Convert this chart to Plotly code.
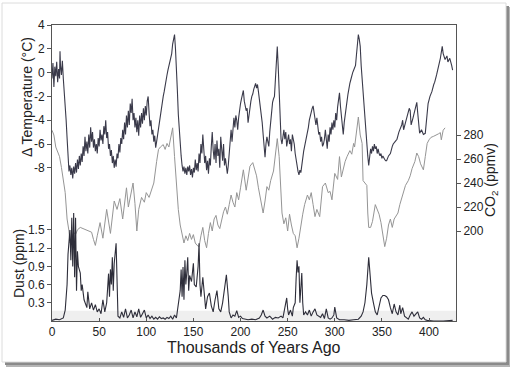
import plotly.graph_objects as go

# ---------------- data ----------------
temp_age = [0,1,2,3,4,5,6,7,8,8.5,9,10,11,12,13,14,15,16,17,18,19,20,21,22,23,24,25,26,27,28,29,30,
            31,32,33,34,35,36,37,38,39,40,41,42,43,44,45,46,47,48,49,50,51,52,53,54,55,56,57,58,59,60,
            61,62,63,64,65,66,67,68,69,70,71,72,73,74,75,76,77,78,79,80,81,82,83,84,85,86,87,88,89,90,
            91,92,93,94,95,96,97,98,99,100,101,102,103,104,105,106,107,108,109,110,111,112,113,114,115,
            116,117,118,119,120,121,122,123,124,125,126,127,128,129,130,131,132,133,134,135,136,137,138,
            139,140,141,142,143,144,145,146,147,148,149,150,151,152,153,154,155,156,157,158,159,160,161,
            162,163,164,165,166,167,168,169,170,171,172,173,174,175,176,177,178,179,180,181,182,183,184,
            185,186,187,188,189,190,191,192,193,194,195,196,197,198,199,200,201,202,203,204,205,206,207,
            208,209,210,211,212,213,214,215,216,217,218,219,220,221,222,223,224,225,226,227,228,229,230,
            231,232,233,234,235,236,237,238,239,240,241,242,243,244,245,246,247,248,249,250,251,252,253,
            254,255,256,257,258,259,260,261,262,263,264,265,266,267,268,269,270,271,272,273,274,275,276,
            277,278,279,280,281,282,283,284,285,286,287,288,289,290,291,292,293,294,295,296,297,298,299,
            300,301,302,303,304,305,306,307,308,309,310,311,312,313,314,315,316,317,318,319,320,321,322,
            323,324,325,326,327,328,329,330,331,332,333,334,335,336,337,338,339,340,341,342,343,344,345,
            346,347,348,349,350,351,352,353,354,355,357,359,361,362,364,366,368,369,371,372,373,375,377,
            379,380,381,383,385,387,388,389,390,392,394,396,398,399,401,403,405,406,408,410,412,414,415,
            417,419,420,422,424,425]
temp_values = [-0.5,0.8,-1.2,0.5,-0.3,0.9,-0.8,0.3,-0.5,1.8,0.6,-0.2,1.0,-0.5,-1.5,-2.5,-4.0,-5.5,-7.2,-8.3,
               -7.8,-8.6,-8.0,-8.9,-7.9,-8.5,-7.6,-8.4,-7.3,-8.1,-7.0,-7.8,-6.8,-7.5,-6.2,-7.0,-5.4,-6.6,
               -5.8,-6.8,-5.2,-6.3,-4.6,-5.8,-5.0,-6.3,-5.6,-6.6,-6.0,-6.8,-5.5,-6.2,-4.8,-5.7,-5.2,-6.0,
               -4.5,-5.2,-4.0,-5.5,-5.0,-6.4,-6.0,-7.0,-6.5,-7.6,-7.0,-8.0,-7.3,-7.9,-6.8,-7.2,-6.0,-6.7,
               -5.5,-6.0,-4.8,-5.6,-4.2,-5.2,-3.6,-4.6,-3.2,-4.4,-2.6,-3.4,-2.2,-4.0,-3.4,-4.6,-3.8,-5.0,
               -4.0,-5.3,-3.6,-4.6,-3.4,-4.3,-3.0,-4.0,-2.8,-3.6,-2.4,-2.0,-3.4,-4.5,-4.0,-5.2,-4.8,-5.8,
               -5.3,-6.3,-5.8,-5.2,-4.6,-4.0,-3.8,-3.0,-2.6,-2.0,-1.6,-1.0,-0.6,-0.2,0.2,0.5,0.8,1.1,1.6,
               2.4,2.9,3.2,2.0,0.6,-1.5,-3.5,-5.0,-6.2,-7.0,-7.8,-8.3,-7.9,-8.5,-8.0,-8.6,-7.9,-8.3,-7.8,
               -8.6,-8.1,-8.8,-8.0,-8.4,-7.3,-8.2,-7.6,-8.3,-6.8,-7.6,-6.0,-6.8,-5.2,-6.9,-7.6,-7.0,-8.2,
               -7.4,-8.5,-7.2,-7.8,-6.2,-5.0,-6.5,-7.3,-6.0,-7.6,-5.7,-7.0,-6.4,-8.0,-5.4,-6.8,-7.4,-6.0,
               -7.8,-7.2,-8.2,-8.5,-7.8,-6.8,-5.6,-4.8,-5.8,-4.2,-3.8,-4.6,-3.6,-4.0,-4.8,-3.8,-3.0,-2.6,
               -2.2,-1.8,-1.5,-2.4,-2.8,-3.2,-3.0,-4.2,-3.6,-2.8,-2.4,-2.0,-1.8,-1.4,-1.1,-0.9,-1.3,-1.0,
               -1.6,-2.2,-3.0,-3.6,-4.2,-5.2,-6.4,-7.1,-6.0,-5.4,-5.8,-6.2,-5.0,-4.0,-3.0,-2.5,-2.2,-2.0,
               -0.6,1.0,2.2,0.5,-2.0,-4.5,-5.6,-6.0,-5.2,-4.8,-5.6,-5.0,-6.2,-5.4,-5.2,-6.0,-5.6,-6.6,-5.2,
               -5.6,-6.0,-6.8,-7.4,-8.0,-8.3,-8.6,-8.2,-8.4,-7.6,-7.0,-6.6,-6.2,-5.8,-5.5,-5.2,-4.6,-4.0,
               -3.6,-3.2,-3.0,-2.8,-3.4,-4.0,-4.4,-3.8,-4.6,-5.2,-5.0,-5.8,-5.4,-6.2,-6.0,-5.6,-4.8,-5.6,
               -6.4,-5.2,-5.8,-4.6,-5.2,-4.2,-4.8,-4.0,-4.6,-3.4,-4.0,-2.9,-2.2,-1.7,-2.8,-3.6,-4.6,-5.2,
               -4.2,-3.4,-2.8,-2.4,-1.8,-1.2,-0.9,-0.6,-0.2,0.0,0.2,0.4,0.6,1.5,2.6,3.2,2.8,2.2,0.6,-0.6,
               -2.0,-3.0,-4.2,-5.2,-6.0,-7.0,-7.8,-7.0,-6.4,-6.8,-6.2,-6.6,-6.0,-6.4,-6.2,-6.8,-6.4,-6.8,
               -7.0,-6.8,-7.2,-7.0,-7.2,-7.3,-7.4,-7.4,-7.0,-6.8,-6.2,-6.0,-5.8,-5.6,-5.0,-4.8,-4.4,-4.0,
               -4.8,-4.2,-3.6,-3.0,-3.2,-4.4,-3.8,-3.0,-2.5,-3.4,-4.6,-5.1,-4.8,-5.2,-5.1,-3.1,-2.6,-2.0,
               -1.6,-1.0,-0.8,-0.2,0.5,1.2,2.2,1.6,1.1,1.4,0.9,1.2,0.6,0.2]

co2_age = [0,2,4,6,8,10,12,14,16,18,19,21,23,25,27,30,33,36,39,42,44,46,48,51,54,58,62,66,69,72,75,79,
           81,84,86,88,90,92,95,98,100,103,106,108,111,113,115,118,120,122,124,126,128,130,132,134,136,
           138,140,142,144,146,148,150,152,154,156,158,160,162,164,166,168,170,172,174,176,178,180,182,
           184,186,188,190,192,194,196,198,200,203,206,208,210,213,215,217,219,221,224,226,228,230,232,
           235,237,239,241,243,244,246,248,250,252,254,256,258,260,262,264,266,268,271,273,275,277,279,
           281,284,287,290,293,295,297,300,303,305,307,309,311,313,316,318,320,321,323,325,327,329,330,
           332,334,335,336,338,340,343,345,347,349,351,353,355,357,359,361,363,365,367,369,371,373,375,
           378,380,382,385,387,389,391,394,396,398,400,402,405,408,410,412,413,415,417]
co2_values = [284,280,270,265,262,253,240,232,210,200,190,194,199,197,201,203,202,201,200,199,193,188,196,
              207,194,218,198,225,218,227,210,236,220,232,240,223,200,218,228,224,232,228,236,240,258,
              268,270,272,268,273,270,278,286,262,240,218,205,197,190,196,192,198,193,197,190,188,187,
              196,203,192,186,198,207,200,210,213,205,202,210,216,220,214,222,230,224,220,232,226,236,
              251,234,246,254,257,252,246,236,226,215,225,237,234,242,250,262,277,262,226,215,206,211,
              200,214,205,198,196,186,194,205,214,222,230,226,232,222,212,218,212,237,240,232,233,226,
              248,243,262,245,252,258,262,267,264,273,270,282,295,280,273,242,240,238,215,203,203,208,
              222,218,214,207,198,187,194,205,210,203,210,212,215,222,228,234,238,242,246,252,258,265,
              262,256,251,262,273,276,278,279,280,281,282,276,284,286]

dust_age = [0,4,8,12,14,16,17,18,19,20,21,22,23,24,25,26,27,28,30,31,32,34,36,37,38,40,42,44,46,48,50,
            52,54,56,58,60,61,62,63,64,65,66,68,69,70,72,74,76,78,80,82,84,86,88,90,92,94,96,98,100,102,
            104,106,108,110,112,114,116,118,120,122,124,126,128,130,132,134,136,137,138,139,140,141,142,
            143,144,145,146,148,150,151,153,155,156,157,158,160,161,163,165,167,169,171,173,175,177,179,
            181,183,185,187,188,190,192,194,196,198,200,202,205,208,212,216,220,222,224,226,228,231,234,
            237,240,243,245,247,249,250,251,253,255,256,257,258,259,260,261,262,263,264,265,266,267,269,
            271,273,275,277,279,281,283,285,287,289,291,293,295,297,299,300,302,305,310,315,320,325,328,
            330,332,334,336,337,338,339,341,343,345,347,349,351,353,355,357,359,361,363,365,367,369,370,
            372,374,376,378,380,382,384,386,388,390,392,394,396,398,405,415,425]
dust_values = [0.01,0.03,0.02,0.05,0.18,0.6,1.1,1.35,1.5,1.0,1.7,0.9,1.78,0.72,1.7,0.5,1.15,0.9,0.79,0.5,
               0.6,0.35,0.25,0.22,0.48,0.2,0.3,0.18,0.27,0.15,0.2,0.12,0.35,0.15,0.3,0.78,0.4,0.85,0.6,
               1.05,0.5,0.95,1.28,0.3,0.08,0.05,0.15,0.06,0.2,0.05,0.1,0.18,0.05,0.15,0.07,0.2,0.06,0.12,
               0.18,0.05,0.1,0.04,0.08,0.03,0.06,0.03,0.07,0.04,0.05,0.03,0.06,0.04,0.08,0.03,0.1,0.05,
               0.27,0.5,0.85,0.4,0.89,0.35,1.0,0.6,0.8,1.05,0.5,0.75,0.65,0.95,0.6,0.56,0.9,1.28,0.6,0.4,
               0.72,0.5,0.2,0.4,0.46,0.25,0.15,0.35,0.5,0.2,0.15,0.3,0.55,0.76,0.4,0.15,0.05,0.1,0.08,
               0.17,0.06,0.08,0.04,0.03,0.02,0.03,0.02,0.05,0.1,0.18,0.08,0.05,0.08,0.03,0.06,0.05,0.08,
               0.05,0.2,0.38,0.2,0.1,0.18,0.08,0.22,0.25,0.3,0.7,1.0,0.8,0.9,0.3,0.5,0.79,0.3,0.1,0.15,
               0.1,0.18,0.08,0.15,0.2,0.1,0.08,0.06,0.12,0.04,0.2,0.05,0.03,0.05,0.1,0.23,0.05,0.02,0.02,
               0.01,0.02,0.03,0.08,0.15,0.3,0.6,1.05,0.85,0.6,0.46,0.3,0.15,0.1,0.25,0.38,0.42,0.42,0.4,
               0.35,0.22,0.12,0.28,0.15,0.1,0.26,0.12,0.22,0.08,0.05,0.03,0.1,0.15,0.08,0.12,0.15,0.05,
               0.03,0.06,0.02,0.01,0.0,0.0,0.01]

x_ticks = [0, 50, 100, 150, 200, 250, 300, 350, 400]
temp_ticks = [-8, -6, -4, -2, 0, 2, 4]
temp_ticktext = ["-8", "-6", "-4", "-2", "0", "2", "4"]
co2_ticks = [200, 220, 240, 260, 280]
dust_ticks = [0.3, 0.6, 0.9, 1.2, 1.5]
dust_ticktext = ["0.3", "0.6", "0.9", "1.2", "1.5"]

# ---------------- layout geometry ----------------
W, H = 510, 369
L, R, T, B = 52, 456, 25, 321   # plot area in pixels


def px(xp):
    return (xp - L) / (R - L)


def py(yp):
    return (B - yp) / (B - T)


FONT = "Arial, Liberation Sans, sans-serif"
INK = "#222222"

fig = go.Figure()
fig.add_trace(go.Scatter(x=co2_age, y=co2_values, mode="lines", yaxis="y2",
                         line=dict(color="#959595", width=1), name="CO2"))
fig.add_trace(go.Scatter(x=temp_age, y=temp_values, mode="lines", yaxis="y",
                         line=dict(color="#3a3a4a", width=1.1), name="Temperature"))
fig.add_trace(go.Scatter(x=dust_age, y=dust_values, mode="lines", yaxis="y3",
                         line=dict(color="#2e2e3a", width=1.1), name="Dust"))

axis_font = dict(family=FONT, size=12, color=INK)

fig.update_layout(
    width=W, height=H, autosize=False,
    margin=dict(l=L, r=W - R, t=T, b=H - B, pad=0),
    paper_bgcolor="white", plot_bgcolor="rgba(0,0,0,0)",
    showlegend=False,
    xaxis=dict(range=[0, 428.6], tickvals=x_ticks, ticks="inside", ticklen=3,
               tickcolor="#555", showline=True, linecolor="#555", linewidth=1,
               mirror=True, showgrid=False, zeroline=False, tickfont=axis_font),
    yaxis=dict(range=[-20.87, 4], tickvals=temp_ticks, ticktext=temp_ticktext,
               ticks="outside", ticklen=4, tickcolor="#555", showline=True,
               linecolor="#555", linewidth=1, mirror=True, showgrid=False,
               zeroline=False, tickfont=axis_font),
    yaxis2=dict(range=[125, 371.7], tickvals=co2_ticks, overlaying="y", side="right",
                ticks="outside", ticklen=4, tickcolor="#555", showline=False,
                showgrid=False, zeroline=False, tickfont=axis_font),
    yaxis3=dict(range=[0, 4.876], tickvals=dust_ticks, ticktext=dust_ticktext,
                overlaying="y", side="left", ticks="outside", ticklen=4,
                tickcolor="#555", showline=False, showgrid=False, zeroline=False,
                tickfont=axis_font),
)

# page with drop shadow
shapes = [
    dict(type="rect", xref="paper", yref="paper", layer="below",
         x0=px(6), x1=px(510), y0=py(367), y1=py(7),
         fillcolor="#b5b5b5", line=dict(width=0)),
    dict(type="rect", xref="paper", yref="paper", layer="below",
         x0=px(5), x1=px(509), y0=py(365), y1=py(6),
         fillcolor="#8a8a8a", line=dict(width=0)),
    dict(type="rect", xref="paper", yref="paper", layer="below",
         x0=px(2), x1=px(506), y0=py(362), y1=py(3),
         fillcolor="white", line=dict(color="#dcdcdc", width=1)),
    dict(type="rect", xref="x", yref="y3", layer="below",
         x0=0, x1=428.6, y0=0, y1=0.17,
         fillcolor="#efefef", line=dict(width=0)),
]
fig.update_layout(shapes=shapes)

title_font = dict(family=FONT, size=14, color=INK)
fig.add_annotation(text="Δ Temperature (°C)", xref="paper", yref="paper",
                   x=px(27), y=py(97), textangle=-90, showarrow=False,
                   font=title_font, xanchor="center", yanchor="middle")
fig.add_annotation(text="Dust (ppm)", xref="paper", yref="paper",
                   x=px(19), y=py(264), textangle=-90, showarrow=False,
                   font=title_font, xanchor="center", yanchor="middle")
fig.add_annotation(text="CO<sub>2</sub> (ppmv)", xref="paper", yref="paper",
                   x=px(491), y=py(180), textangle=-90, showarrow=False,
                   font=title_font, xanchor="center", yanchor="middle")
fig.add_annotation(text="Thousands of Years Ago", xref="paper", yref="paper",
                   x=px(254), y=py(347), showarrow=False,
                   font=dict(family=FONT, size=16, color=INK),
                   xanchor="center", yanchor="middle")

fig.write_html("out.html", config={"displayModeBar": False},
               post_script="document.body.style.margin='0';document.body.style.overflow='hidden';")
